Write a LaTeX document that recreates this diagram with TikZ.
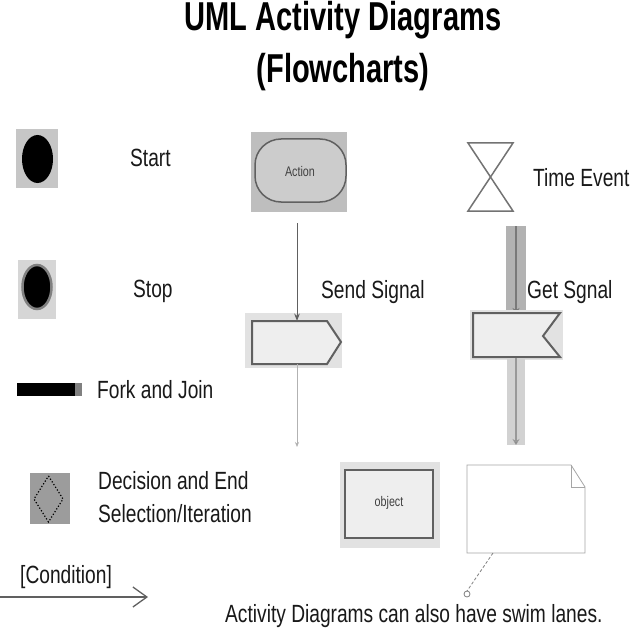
\documentclass[tikz,border=0pt]{standalone}
\usepackage{fontspec}
\setmainfont{Liberation Sans}[FakeStretch=0.77]
\newfontfamily\titlefont{Liberation Sans}[FakeStretch=0.72]
\usepackage{xcolor}
\usepackage{tikz}
\usetikzlibrary{arrows.meta,calc}

\definecolor{startbg}{HTML}{C6C6C6}
\definecolor{stopbg}{HTML}{D6D6D6}
\definecolor{decbg}{HTML}{9C9C9C}
\definecolor{actbg}{HTML}{BEBEBE}
\definecolor{actfill}{HTML}{CCCCCC}
\definecolor{lightbg}{HTML}{E2E2E2}
\definecolor{shapefill}{HTML}{EEEEEE}
\definecolor{edge}{HTML}{606060}

\begin{document}
\begin{tikzpicture}[x=1bp, y=-1bp, >=Stealth,
    lbl/.style={anchor=base west, inner sep=0pt, font=\fontsize{25}{28}\selectfont, text=black!90},
    ttl/.style={anchor=base, inner sep=0pt, font=\titlefont\bfseries\fontsize{40.5}{44}\selectfont},
    tiny/.style={inner sep=0pt, font=\fontsize{14}{16}\selectfont, text=black!75}]
    \useasboundingbox[fill=white] (0,0) rectangle (640,640);

    \node[ttl] (title1) at (343,31) {UML Activity Diagrams};
    \node[ttl] (title2) at (343,83) {(Flowcharts)};

    % left column
    \fill[startbg] (16,129) rectangle (58,188);
    \fill[black] (37.5,159) ellipse [x radius=15.5, y radius=24];
    \node[lbl] (startlbl) at (130,167) {Start};

    \fill[stopbg] (18,260) rectangle (56,319);
    \filldraw[fill=black, draw=gray, line width=2.5bp] (37,287) ellipse [x radius=14.5, y radius=22];
    \node[lbl] (stoplbl) at (133,297) {Stop};

    \fill[black] (17,383) rectangle (75,396);
    \fill[gray] (75,383) rectangle (82,396);
    \node[lbl] (forklbl) at (97,398) {Fork and Join};

    \fill[decbg] (30,473) rectangle (70,524);
    \draw[black, dotted, line width=1.2bp] (48.5,476) -- (63,499) -- (48.5,522) -- (34,499) -- cycle;
    \node[lbl] (declbl) at (98,489) {Decision and End};
    \node[lbl] (sellbl) at (98,522) {Selection/Iteration};

    \node[lbl] (condlbl) at (20,583) {[Condition]};
    \coordinate (condin) at (0,597);
    \coordinate (condout) at (148,597);
    \draw[edge, line width=1.3bp, -{Straight Barb[length=14bp, width=20bp]}] (condin) -- (condout);

    % action and send signal
    \fill[actbg] (251,132) rectangle (347,212);
    \draw[fill=actfill, draw=edge, line width=1.5bp, rounded corners=26bp] (255,139) rectangle (346,202);
    \node[tiny] (action) at (300,172) {Action};

    \fill[lightbg] (245,313) rectangle (342,368);
    \draw[fill=shapefill, draw=edge, line width=2bp] (252,321) -- (327,321) -- (341,342) -- (327,364) -- (252,364) -- cycle;
    \node[lbl] (sendlbl) at (321,298) {Send Signal};
    \coordinate (actout) at (297,223);
    \coordinate (sendin) at (297,321);
    \coordinate (sendout) at (297,364);
    \coordinate (sendend) at (297,447);
    \draw[edge, line width=1bp, ->] (actout) -- (sendin);
    \draw[gray!60, line width=0.7bp, -{Stealth[length=5bp, width=4bp]}] (sendout) -- (sendend);

    % time event and get signal
    \draw[gray!90!black, line width=1.5bp] (468,143) -- (513,143) -- (468,211) -- (513,211) -- cycle;
    \node[lbl] (timelbl) at (533,187) {Time Event};

    \fill[gray!60] (506,226) rectangle (526,313);
    \coordinate (gettop) at (516,226);
    \coordinate (getin) at (516,314);
    \draw[gray!95!black, line width=1.5bp, -{Stealth[length=6bp, width=7bp, fill=black]}] (gettop) -- (getin);
    \fill[lightbg] (470,310) rectangle (563,360);
    \draw[fill=shapefill, draw=edge, line width=2bp] (473,313) -- (560,313) -- (543,336) -- (560,357) -- (473,357) -- cycle;
    \node[lbl] (getlbl) at (527,298) {Get Sgnal};
    \fill[gray!35] (507,358) rectangle (525,445);
    \coordinate (getout) at (516,358);
    \coordinate (getend) at (516,445);
    \draw[gray!80, line width=1.5bp, -{Stealth[length=6bp, width=7bp, fill=black]}] (getout) -- (getend);

    % object and note
    \fill[lightbg] (340,462) rectangle (440,548);
    \draw[fill=shapefill, draw=edge, line width=2.5bp] (345,470) rectangle (433,538);
    \node[tiny] (object) at (389,503) {object};

    \draw[gray!70, line width=0.8bp] (467,465) -- (571,465) -- (585,487) -- (585,553) -- (467,553) -- cycle;
    \draw[gray!70, line width=0.8bp] (571,465) -- (571,487) -- (585,487);
    \coordinate (noteout) at (493,553);
    \coordinate (notepin) at (467,591);
    \draw[gray, densely dashed, line width=0.8bp] (noteout) -- (notepin);
    \draw[gray, line width=0.8bp] (467,594) circle [radius=3];

    \node[lbl] (swimlbl) at (225,622) {Activity Diagrams can also have swim lanes.};
\end{tikzpicture}
\end{document}
